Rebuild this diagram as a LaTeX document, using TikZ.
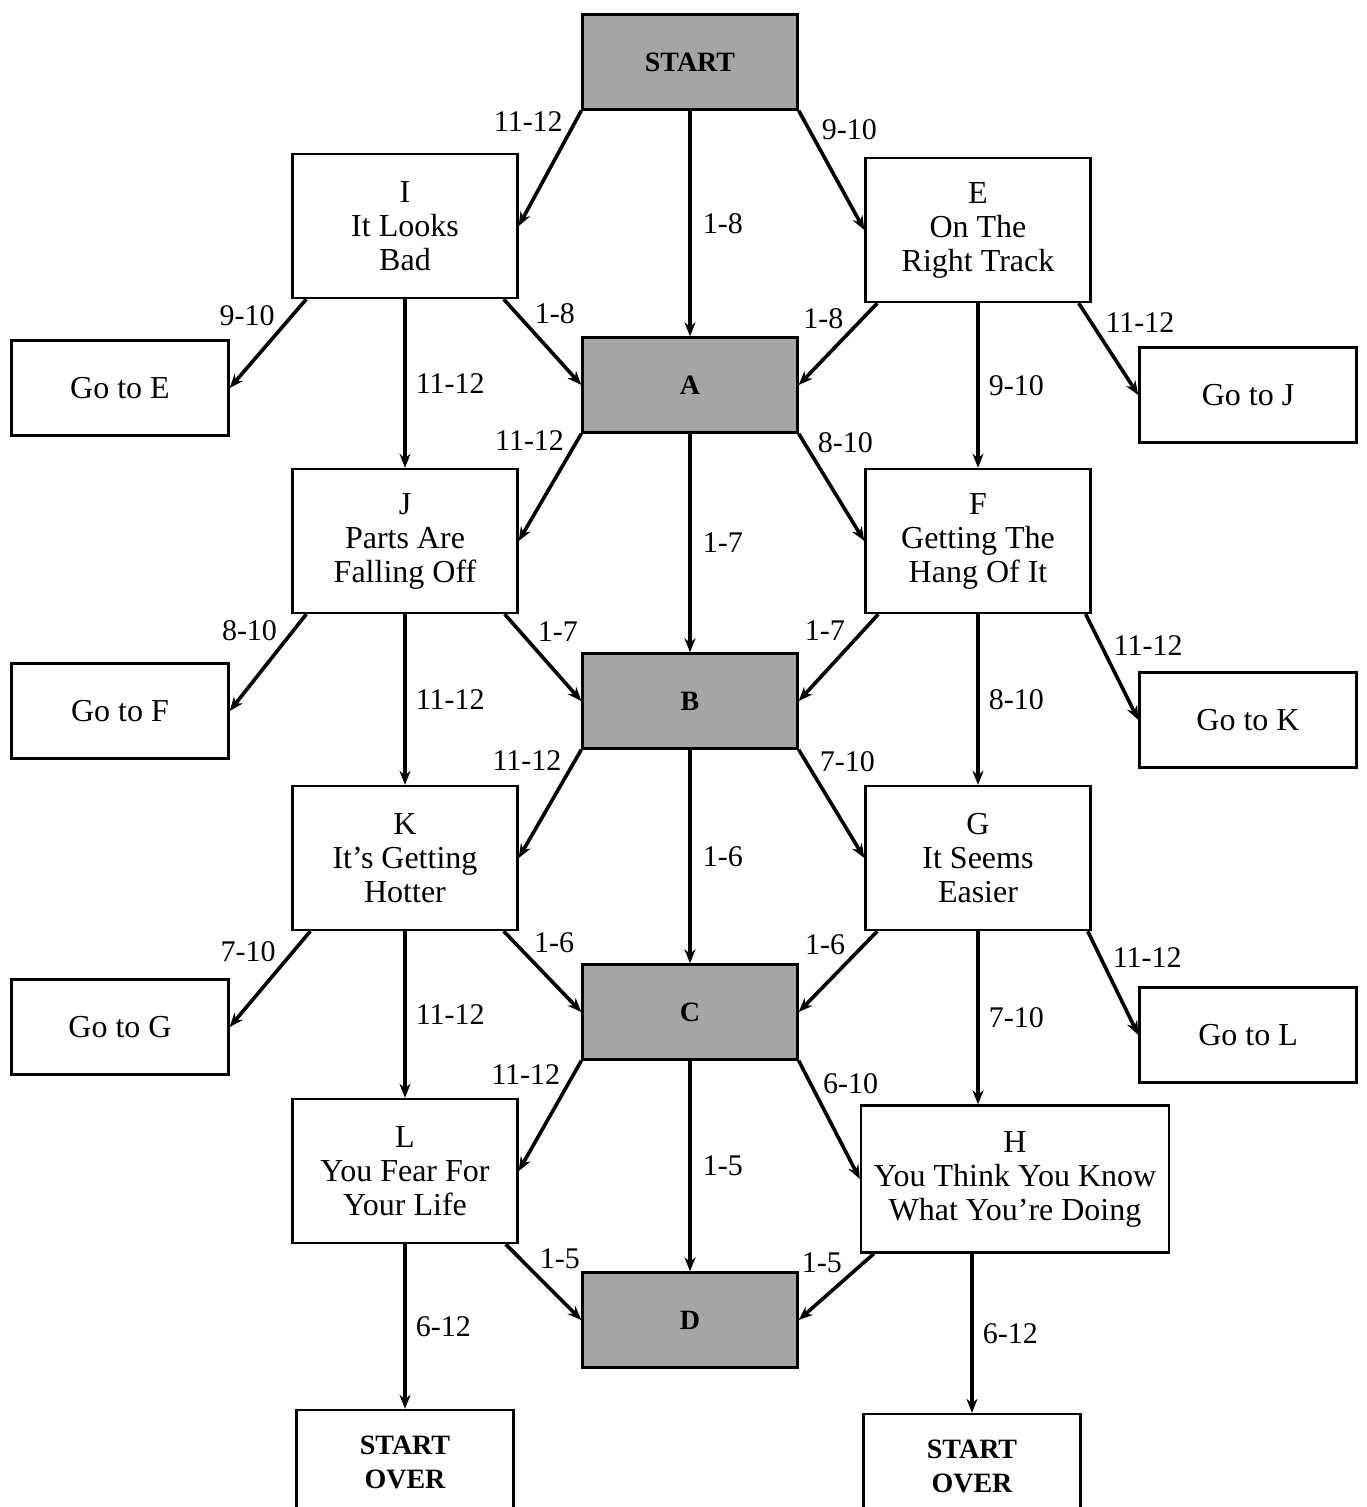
\documentclass[tikz,border=0pt]{standalone}
\usepackage{fontspec}
\setmainfont{Liberation Serif}
\usetikzlibrary{arrows.meta}

\definecolor{boxgray}{RGB}{165,165,165}

\newcommand*{\colL}{405}
\newcommand*{\colM}{690}
\newcommand*{\colR}{978}
\newcommand*{\goL}{120}
\newcommand*{\goR}{1248}

\begin{document}
\begin{tikzpicture}
[
	x=0.5pt, y=-0.5pt,
	stepbox/.style={draw,line width=1.2pt,align=center,minimum width=112.5pt,minimum height=72pt,inner sep=2pt,font=\fontsize{16}{17}\selectfont},
	gobox/.style={draw,line width=1.2pt,minimum width=108.5pt,minimum height=47.5pt,font=\fontsize{16}{17}\selectfont},
	keybox/.style={draw,line width=1.2pt,fill=boxgray,minimum width=107.5pt,minimum height=47.5pt,font=\fontsize{14}{16}\selectfont\bfseries},
	overbox/.style={draw,line width=1.2pt,align=center,minimum width=108.5pt,minimum height=52pt,font=\fontsize{14}{17}\selectfont\bfseries},
	roll/.style={draw,line width=1.8pt,-{Stealth[length=7pt,width=5.5pt]}},
	num/.style={font=\fontsize{15}{16}\selectfont,inner sep=1.5pt}
]

	\useasboundingbox (0,0) rectangle (1366,1507);

	% main track
	\node[keybox] (start) at (\colM,62) {START};
	\node[keybox] (A) at (\colM,385) {A};
	\node[keybox] (B) at (\colM,701) {B};
	\node[keybox] (C) at (\colM,1012) {C};
	\node[keybox] (D) at (\colM,1320) {D};

	% left column
	\node[stepbox] (I) at (\colL,226) {I\\It Looks\\Bad};
	\node[stepbox] (J) at (\colL,541) {J\\Parts Are\\Falling Off};
	\node[stepbox] (K) at (\colL,858) {K\\It’s Getting\\Hotter};
	\node[stepbox] (L) at (\colL,1171) {L\\You Fear For\\Your Life};
	\node[overbox] (overL) at (\colL,1462) {START\\OVER};

	% right column
	\node[stepbox] (E) at (\colR,230) {E\\On The\\Right Track};
	\node[stepbox] (F) at (\colR,541) {F\\Getting The\\Hang Of It};
	\node[stepbox] (G) at (\colR,858) {G\\It Seems\\Easier};
	\node[stepbox,minimum width=154pt,minimum height=73.5pt] (H) at (1015,1179) {H\\You Think You Know\\What You’re Doing};
	\node[overbox] (overR) at (972,1466) {START\\OVER};

	% jumps
	\node[gobox] (goE) at (\goL,388) {Go to E};
	\node[gobox] (goF) at (\goL,711) {Go to F};
	\node[gobox] (goG) at (\goL,1027) {Go to G};
	\node[gobox] (goJ) at (\goR,395) {Go to J};
	\node[gobox] (goK) at (\goR,720) {Go to K};
	\node[gobox] (goL) at (\goR,1035) {Go to L};

	% from START
	\draw[roll] (start.south west) -- (I.east) node[num,pos=0.22,above left] {11-12};
	\draw[roll] (start.south) -- (A.north) node[num,pos=0.5,right=4pt] {1-8};
	\draw[roll] (start.south east) -- (E.west) node[num,pos=0.28,above right] {9-10};

	% from I and E
	\draw[roll] ([xshift=7.5pt]I.south west) -- (goE.east) node[num,pos=0.35,above left] {9-10};
	\draw[roll] (I.south) -- (J.north) node[num,pos=0.5,right=3pt] {11-12};
	\draw[roll] ([xshift=-7.5pt]I.south east) -- (A.west) node[num,pos=0.34,above right] {1-8};
	\draw[roll] ([xshift=6.5pt]E.south west) -- (A.east) node[num,pos=0.37,above left] {1-8};
	\draw[roll] (E.south) -- (F.north) node[num,pos=0.5,right=3pt] {9-10};
	\draw[roll] ([xshift=-6.5pt]E.south east) -- (goJ.west) node[num,pos=0.37,above right] {11-12};

	% from A
	\draw[roll] (A.south west) -- (J.east) node[num,pos=0.2,above left] {11-12};
	\draw[roll] (A.south) -- (B.north) node[num,pos=0.5,right=4pt] {1-7};
	\draw[roll] (A.south east) -- (F.west) node[num,pos=0.22,above right] {8-10};

	% from J and F
	\draw[roll] ([xshift=7.5pt]J.south west) -- (goF.east) node[num,pos=0.32,above left] {8-10};
	\draw[roll] (J.south) -- (K.north) node[num,pos=0.5,right=3pt] {11-12};
	\draw[roll] ([xshift=-7pt]J.south east) -- (B.west) node[num,pos=0.37,above right] {1-7};
	\draw[roll] ([xshift=7pt]F.south west) -- (B.east) node[num,pos=0.36,above left] {1-7};
	\draw[roll] (F.south) -- (G.north) node[num,pos=0.5,right=3pt] {8-10};
	\draw[roll] ([xshift=-3pt]F.south east) -- (goK.west) node[num,pos=0.44,above right] {11-12};

	% from B
	\draw[roll] (B.south west) -- (K.east) node[num,pos=0.24,above left] {11-12};
	\draw[roll] (B.south) -- (C.north) node[num,pos=0.5,right=4pt] {1-6};
	\draw[roll] (B.south east) -- (G.west) node[num,pos=0.25,above right] {7-10};

	% from K and G
	\draw[roll] ([xshift=9.5pt]K.south west) -- (goG.east) node[num,pos=0.37,above left] {7-10};
	\draw[roll] (K.south) -- (L.north) node[num,pos=0.5,right=3pt] {11-12};
	\draw[roll] ([xshift=-7.5pt]K.south east) -- (C.west) node[num,pos=0.33,above right] {1-6};
	\draw[roll] ([xshift=6.5pt]G.south west) -- (C.east) node[num,pos=0.35,above left] {1-6};
	\draw[roll] (G.south) -- (G.south |- H.north) node[num,pos=0.5,right=3pt] {7-10};
	\draw[roll] ([xshift=-2pt]G.south east) -- (goL.west) node[num,pos=0.4,above right] {11-12};

	% from C
	\draw[roll] (C.south west) -- (L.east) node[num,pos=0.26,above left] {11-12};
	\draw[roll] (C.south) -- (D.north) node[num,pos=0.5,right=4pt] {1-5};
	\draw[roll] (C.south east) -- (H.west) node[num,pos=0.32,above right] {6-10};

	% from L and H
	\draw[roll] ([xshift=-6.5pt]L.south east) -- (D.west) node[num,pos=0.39,above right] {1-5};
	\draw[roll] (L.south) -- (overL.north) node[num,pos=0.5,right=3pt] {6-12};
	\draw[roll] ([xshift=7pt]H.south west) -- (D.east) node[num,pos=0.36,above left] {1-5};
	\draw[roll] (overR.north |- H.south) -- (overR.north) node[num,pos=0.5,right=3pt] {6-12};

\end{tikzpicture}
\end{document}
